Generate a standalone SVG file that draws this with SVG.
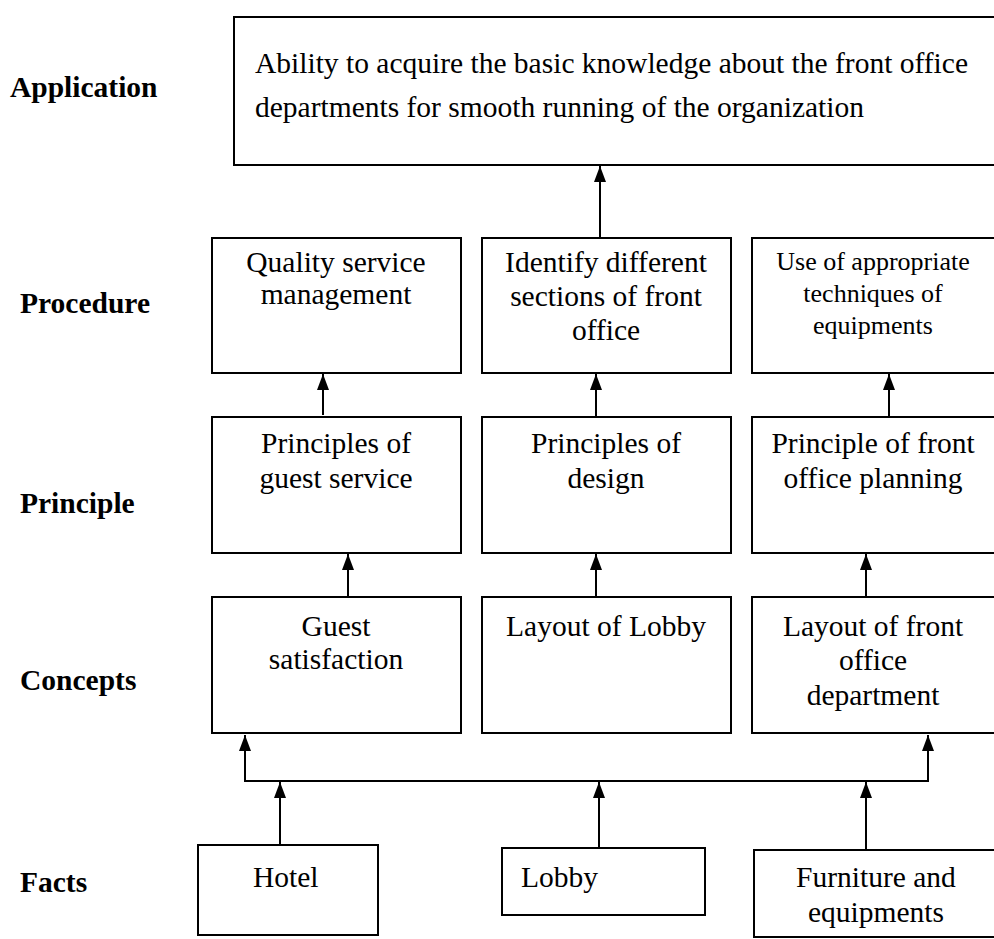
<svg xmlns="http://www.w3.org/2000/svg" width="994" height="939" viewBox="0 0 994 939">
<defs>
<marker id="ah" markerUnits="userSpaceOnUse" markerWidth="16" markerHeight="12" refX="16" refY="6" orient="auto">
<path d="M0,0 L16,6 L0,12 z" fill="#000"/>
</marker>
<style>
.box{fill:#fff;stroke:#000;stroke-width:2}
.t{font-family:"Liberation Serif","Times New Roman",serif;font-size:29.5px;fill:#000}
.c{text-anchor:middle}
.s{font-size:26px}
.lbl{font-family:"Liberation Serif","Times New Roman",serif;font-size:29.5px;font-weight:bold;fill:#000}
.con{stroke:#000;stroke-width:2;fill:none}
.arr{marker-end:url(#ah)}
</style>
</defs>
<rect width="994" height="939" fill="#fff"/>
<g id="labels">
<text class="lbl" x="10" y="97">Application</text>
<text class="lbl" x="20" y="313">Procedure</text>
<text class="lbl" x="20" y="513">Principle</text>
<text class="lbl" x="20" y="690">Concepts</text>
<text class="lbl" x="20" y="892">Facts</text>
</g>
<g id="connectors">
<path class="con arr" d="M600,237 V166"/>
<path class="con arr" d="M323,415 V374"/>
<path class="con arr" d="M596,417 V374"/>
<path class="con arr" d="M889,417 V374"/>
<path class="con arr" d="M348,597 V554"/>
<path class="con arr" d="M596,597 V554"/>
<path class="con arr" d="M866,597 V554"/>
<path class="con" d="M245,781 H928"/>
<path class="con arr" d="M245,782 V735"/>
<path class="con arr" d="M928,782 V735"/>
<path class="con arr" d="M280,845 V782"/>
<path class="con arr" d="M599,848 V782"/>
<path class="con arr" d="M866,850 V782"/>
</g>
<g id="app">
<rect class="box" x="234" y="17" width="770" height="148"/>
<text class="t" x="255" y="73">Ability to acquire the basic knowledge about the front office</text>
<text class="t" x="255" y="117">departments for smooth running of the organization</text>
</g>
<g id="proc1">
<rect class="box" x="212" y="238" width="249" height="135"/>
<text class="t c" x="336" y="272">Quality service</text>
<text class="t c" x="336" y="304">management</text>
</g>
<g id="proc2">
<rect class="box" x="482" y="238" width="249" height="135"/>
<text class="t c" x="606" y="272">Identify different</text>
<text class="t c" x="606" y="306">sections of front</text>
<text class="t c" x="606" y="340">office</text>
</g>
<g id="proc3">
<rect class="box" x="752" y="238" width="260" height="135"/>
<text class="t c s" x="873" y="270">Use of appropriate</text>
<text class="t c s" x="873" y="302">techniques of</text>
<text class="t c s" x="873" y="334">equipments</text>
</g>
<g id="prin1">
<rect class="box" x="212" y="417" width="249" height="136"/>
<text class="t c" x="336" y="453">Principles of</text>
<text class="t c" x="336" y="488">guest service</text>
</g>
<g id="prin2">
<rect class="box" x="482" y="417" width="249" height="136"/>
<text class="t c" x="606" y="453">Principles of</text>
<text class="t c" x="606" y="488">design</text>
</g>
<g id="prin3">
<rect class="box" x="752" y="417" width="260" height="136"/>
<text class="t c" x="873" y="453">Principle of front</text>
<text class="t c" x="873" y="488">office planning</text>
</g>
<g id="conc1">
<rect class="box" x="212" y="597" width="249" height="136"/>
<text class="t c" x="336" y="636">Guest</text>
<text class="t c" x="336" y="669">satisfaction</text>
</g>
<g id="conc2">
<rect class="box" x="482" y="597" width="249" height="136"/>
<text class="t c" x="606" y="636">Layout of Lobby</text>
</g>
<g id="conc3">
<rect class="box" x="752" y="597" width="260" height="136"/>
<text class="t c" x="873" y="636">Layout of front</text>
<text class="t c" x="873" y="670">office</text>
<text class="t c" x="873" y="705">department</text>
</g>
<g id="fact1">
<rect class="box" x="198" y="845" width="180" height="90"/>
<text class="t" x="253" y="887">Hotel</text>
</g>
<g id="fact2">
<rect class="box" x="502" y="848" width="203" height="67"/>
<text class="t" x="521" y="887">Lobby</text>
</g>
<g id="fact3">
<rect class="box" x="754" y="850" width="260" height="87"/>
<text class="t c" x="876" y="887">Furniture and</text>
<text class="t c" x="876" y="922">equipments</text>
</g>
</svg>
